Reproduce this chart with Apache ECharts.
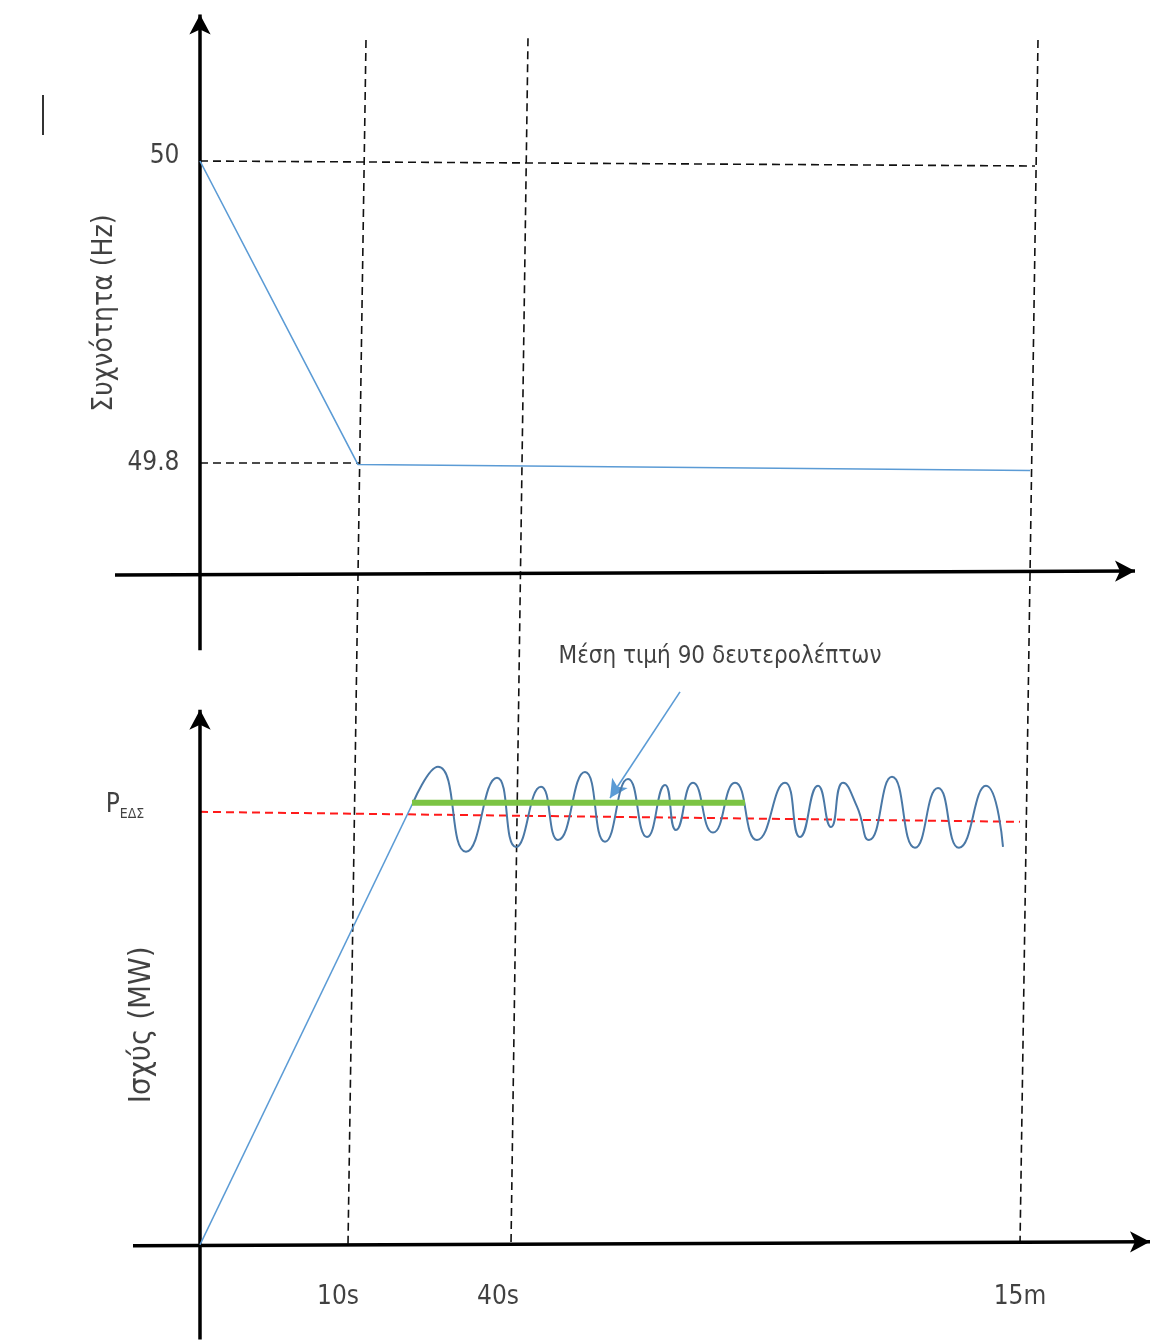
<!DOCTYPE html>
<html><head><meta charset="utf-8">
<script src="https://cdn.jsdelivr.net/npm/echarts@6/dist/echarts.min.js"></script>
<style>html,body{margin:0;padding:0;background:#fff}#c{width:1173px;height:1340px}</style>
</head><body><div id="c"></div>
<script>
const FONT = "'Liberation Sans Narrow','DejaVu Sans Condensed','Liberation Sans',sans-serif";

// ---- top panel: frequency (Hz) ----
const freqTicks = [50, 49.8];
const freqLine = [[0, 50], [15.8, 49.799], [83, 49.795]];
const freqRef50 = [[0, 50], [83.5, 49.9967]];
const freqRef498 = [[0, 49.8], [16, 49.8]];
const freqYAxis = [[0, 49.676], [0, 50.097]];
const freqXAxis = [[-8.5, 49.7258], [93.5, 49.7285]];
const freqAxisName = 'Συχνότητα (Hz)';
const freqAxisNamePos = [-9.5, 49.8993];
const strayMark = [[-15.7, 50.0437], [-15.7, 50.0172]];

// ---- bottom panel: power (MW) ----
const powerRamp = [[0, 0], [21.3, 1.021]];
const powerWave = [
  [21.3, 1.021], [23.8, 1.104], [26.6, 0.908], [29.7, 1.079], [31.6, 0.919], [34.1, 1.058],
  [35.8, 0.935], [38.5, 1.092], [40.5, 0.931], [42.8, 1.076], [44.7, 0.942], [46.5, 1.062],
  [47.6, 0.958], [49.3, 1.067], [51.3, 0.952], [53.5, 1.067], [55.7, 0.935], [58.5, 1.067],
  [60.0, 0.942], [61.8, 1.060], [63.1, 0.965], [64.3, 1.067], [65.7, 1.012], [66.9, 0.935],
  [69.2, 1.081], [71.5, 0.917], [73.8, 1.055], [75.9, 0.917], [78.6, 1.060], [80.3, 0.919]
];
const powerAvg = [[21.2, 1.021], [54.5, 1.021]];
const powerRef = [[0, 1], [82, 0.977]];
const powerYAxis = [[0, -0.219], [0, 1.2356]];
const powerXAxis = [[-6.7, -0.0023], [95, 0.0069]];
const powerAxisName = 'Ισχύς (MW)';
const powerAxisNamePos = [-5.8, 0.508];
const pLabelPos = [-7.5, 1.016];
const annotationText = 'Μέση τιμή 90 δευτερολέπτων';
const annotationPos = [52, 1.358];
const annotationArrow = [[48, 1.277], [41, 1.032]];

// ---- shared time guides ----
const timeGuides = [
  [[16.6, 2.783], [14.8, 0]],
  [[32.8, 2.787], [31.1, 0]],
  [[83.8, 2.783], [82, 0]]
];
const timeTickLabels = ['10s', '40s', '15m'];
const timeTickPos = [13.8, 29.8, 82];
const timeTickY = -0.1224;

const TXT = '#111';
const chart = echarts.init(document.getElementById('c'), null, {renderer: 'canvas'});

function plainLine(data, xi, yi, color, width, type, z, smooth) {
  return {
    type: 'line', xAxisIndex: xi, yAxisIndex: yi, data: data, symbol: 'none',
    clip: false, silent: true, smooth: smooth || false, z: z,
    lineStyle: {color: color, width: width, type: type || 'solid'}
  };
}
function arrowLine(pts, xi, yi, color, width, size, z, sym) {
  return {
    type: 'line', xAxisIndex: xi, yAxisIndex: yi, data: [], symbol: 'none', clip: false, silent: true, z: z,
    markLine: {
      silent: true, animation: false, symbol: ['none', sym || 'arrow'], symbolSize: size,
      label: {show: false},
      lineStyle: {color: color, width: width, type: 'solid'},
      emphasis: {disabled: true},
      data: [[{coord: pts[0]}, {coord: pts[1]}]]
    }
  };
}
function textPoint(pos, xi, yi, text, opt) {
  return {
    type: 'scatter', xAxisIndex: xi, yAxisIndex: yi, symbolSize: 1, silent: true, clip: false, z: 20,
    itemStyle: {color: 'transparent'},
    data: [pos],
    label: Object.assign({
      show: true, position: 'inside', formatter: text, color: TXT,
      fontFamily: FONT, fontSize: 26
    }, opt || {})
  };
}

const series = [];
timeGuides.forEach(g => series.push(plainLine(g, 1, 1, '#111', 1.6, [8, 5], 2)));
// top panel
series.push(plainLine(freqRef50, 0, 0, '#111', 1.6, [8, 5], 2));
series.push(plainLine(freqRef498, 0, 0, '#111', 1.6, [8, 5], 2));
series.push(plainLine(freqLine, 0, 0, '#5b9bd5', 1.6, 'solid', 5));
series.push(arrowLine(freqYAxis, 0, 0, '#000', 3.5, [16, 20], 6));
series.push(arrowLine(freqXAxis, 0, 0, '#000', 3.5, [16, 20], 6));
series.push(plainLine(strayMark, 0, 0, '#333', 2, 'solid', 6));
series.push({
  type: 'scatter', xAxisIndex: 0, yAxisIndex: 0, symbolSize: 1, silent: true, clip: false, z: 20,
  itemStyle: {color: 'transparent'},
  data: freqTicks.map(v => ({value: [0, v], label: {offset: [0, v === 50 ? -5 : 0]}})),
  label: {show: true, position: 'left', distance: 20, color: TXT, fontFamily: FONT, fontSize: 26,
    formatter: p => String(p.value[1])}
});
series.push(textPoint(freqAxisNamePos, 0, 0, freqAxisName, {rotate: 90, fontSize: 28}));
// bottom panel
series.push(plainLine(powerRef, 1, 1, '#ff1a1a', 2, [8, 5], 3));
series.push(plainLine(powerRamp, 1, 1, '#5b9bd5', 1.6, 'solid', 5));
series.push(plainLine(powerWave, 1, 1, '#4a78a6', 2, 'solid', 5, 0.55));
series.push(plainLine(powerAvg, 1, 1, '#7cc444', 6, 'solid', 7));
series.push(arrowLine(annotationArrow, 1, 1, '#5b9bd5', 1.6, [14, 18], 8));
series.push(arrowLine(powerYAxis, 1, 1, '#000', 3.5, [16, 20], 6));
series.push(arrowLine(powerXAxis, 1, 1, '#000', 3.5, [16, 20], 6));
series.push(textPoint(powerAxisNamePos, 1, 1, powerAxisName, {rotate: 90, fontSize: 31}));
series.push(textPoint(annotationPos, 1, 1, annotationText, {fontSize: 24}));
series.push(textPoint(pLabelPos, 1, 1, '{p|P}{s|ΕΔΣ}', {
  rich: {
    p: {fontFamily: FONT, fontSize: 26, color: TXT, verticalAlign: 'bottom'},
    s: {fontFamily: FONT, fontSize: 14, color: TXT, verticalAlign: 'bottom', padding: [0, 0, -3, 0]}
  }
}));
series.push({
  type: 'scatter', xAxisIndex: 1, yAxisIndex: 1, symbolSize: 1, silent: true, clip: false, z: 20,
  itemStyle: {color: 'transparent'},
  data: timeTickPos.map((x, i) => ({value: [x, timeTickY], name: timeTickLabels[i]})),
  label: {show: true, position: 'inside', color: TXT, fontFamily: FONT, fontSize: 26,
    formatter: p => p.name}
});

chart.setOption({
  animation: false,
  backgroundColor: '#fff',
  grid: [
    {left: 0, right: 0, top: 10, height: 679.5},
    {left: 0, right: 0, top: 32.6, height: 1307.66}
  ],
  xAxis: [
    {type: 'value', gridIndex: 0, min: -20, max: 97.3, show: false},
    {type: 'value', gridIndex: 1, min: -20, max: 97.3, show: false}
  ],
  yAxis: [
    {type: 'value', gridIndex: 0, min: 49.65, max: 50.1, show: false, scale: true},
    {type: 'value', gridIndex: 1, min: -0.22, max: 2.8, show: false}
  ],
  series: series
});
</script>
</body></html>
